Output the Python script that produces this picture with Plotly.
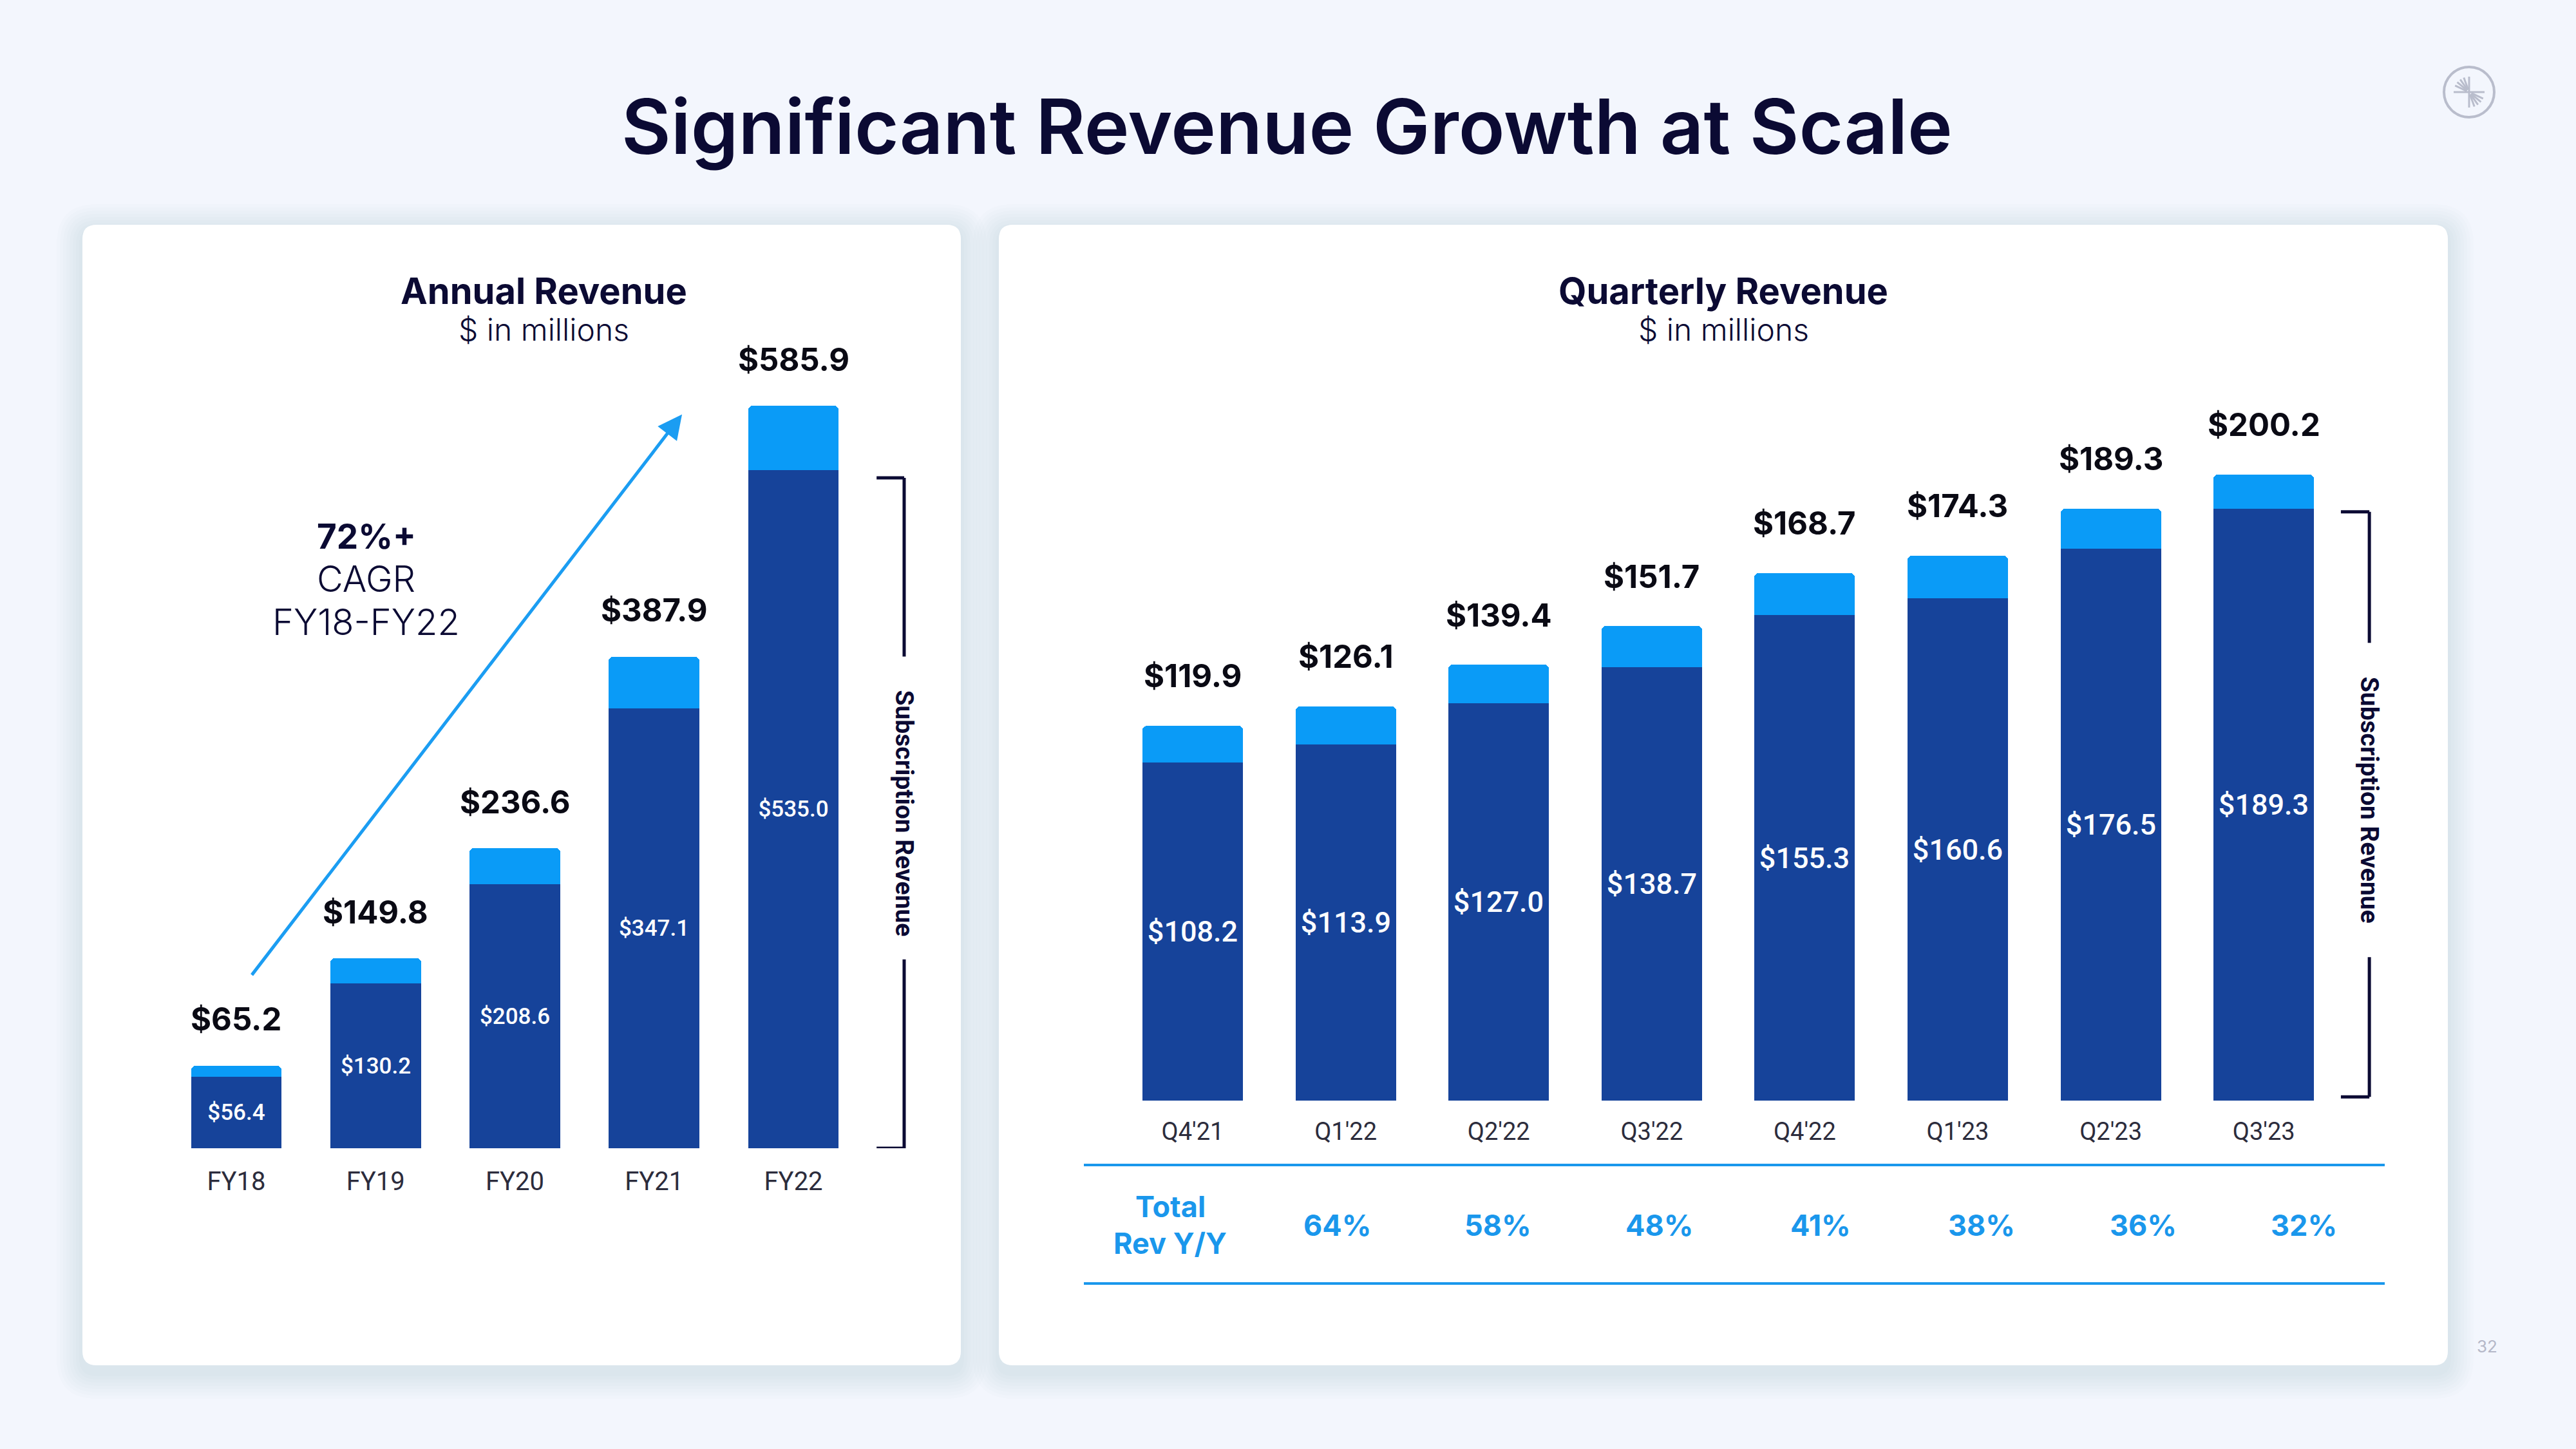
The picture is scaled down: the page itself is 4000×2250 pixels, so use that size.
import math
import plotly.graph_objects as go

W, H = 4000, 2250

# ---------------- data ----------------
annual_years = ["FY18", "FY19", "FY20", "FY21", "FY22"]
annual_total = [65.2, 149.8, 236.6, 387.9, 585.9]
annual_subscription = [56.4, 130.2, 208.6, 347.1, 535.0]

quarters = ["Q4'21", "Q1'22", "Q2'22", "Q3'22", "Q4'22", "Q1'23", "Q2'23", "Q3'23"]
quarterly_total = [119.9, 126.1, 139.4, 151.7, 168.7, 174.3, 189.3, 200.2]
quarterly_subscription = [108.2, 113.9, 127.0, 138.7, 155.3, 160.6, 176.5, 189.3]

yoy_quarters = ["Q1'22", "Q2'22", "Q3'22", "Q4'22", "Q1'23", "Q2'23", "Q3'23"]
yoy_growth = [64, 58, 48, 41, 38, 36, 32]

cagr_text = ["72%+", "CAGR", "FY18-FY22"]

# ---------------- style ----------------
BG = "#f3f6fd"
DARK = "#16439a"
LIGHT = "#0a9bf7"
ACCENT = "#1a97ec"
NAVY = "#0b0a33"
TICK = "#2c2c3c"
TITLE_FONT = "Inter"
NUM_FONT = "Roboto"


def px(x):
    return x / W


def py(y):
    return 1 - y / H


fig = go.Figure()

# ---- annual bars ----
fig.add_trace(go.Bar(
    x=annual_years, y=annual_total, xaxis="x", yaxis="y",
    marker=dict(color=LIGHT, cornerradius=7, line=dict(width=0)),
    width=0.65, hoverinfo="skip", showlegend=False,
))
fig.add_trace(go.Bar(
    x=annual_years, y=annual_subscription, xaxis="x", yaxis="y",
    marker=dict(color=DARK, cornerradius=0, line=dict(width=0)),
    width=0.65, text=[f"${v:.1f}" for v in annual_subscription],
    textposition="inside", insidetextanchor="middle", textangle=0,
    constraintext="none",
    textfont=dict(family=NUM_FONT, size=35, color="white", weight=500),
    hoverinfo="skip", showlegend=False,
))

# ---- quarterly bars ----
fig.add_trace(go.Bar(
    x=quarters, y=quarterly_total, xaxis="x2", yaxis="y2",
    marker=dict(color=LIGHT, cornerradius=7, line=dict(width=0)),
    width=0.656, hoverinfo="skip", showlegend=False,
))
fig.add_trace(go.Bar(
    x=quarters, y=quarterly_subscription, xaxis="x2", yaxis="y2",
    marker=dict(color=DARK, cornerradius=0, line=dict(width=0)),
    width=0.656, text=[f"${v:.1f}" for v in quarterly_subscription],
    textposition="inside", insidetextanchor="middle", textangle=0,
    constraintext="none",
    textfont=dict(family=NUM_FONT, size=45, color="white", weight=500),
    hoverinfo="skip", showlegend=False,
))

annotations = []
shapes = []

# ---- cards (with soft shadow) ----
def rrect_path(x0, y0, x1, y1, r):
    rx, ry = r / W, r / H
    X0, X1, Y0, Y1 = px(x0), px(x1), py(y0), py(y1)
    return (f"M {X0+rx},{Y0} L {X1-rx},{Y0} Q {X1},{Y0} {X1},{Y0-ry} "
            f"L {X1},{Y1+ry} Q {X1},{Y1} {X1-rx},{Y1} L {X0+rx},{Y1} "
            f"Q {X0},{Y1} {X0},{Y1+ry} L {X0},{Y0-ry} Q {X0},{Y0} {X0+rx},{Y0} Z")

for (cx0, cy0, cx1, cy1) in [(128, 349, 1492, 2120), (1551, 349, 3801, 2120)]:
    for i in range(1, 9):
        e = i * 5
        shapes.append(dict(type="path", xref="paper", yref="paper", layer="below",
                           path=rrect_path(cx0 - e, cy0 - e + 8, cx1 + e, cy1 + e + 12, 22 + e),
                           fillcolor="rgba(40,50,110,0.012)", line=dict(width=0)))
    shapes.append(dict(type="path", xref="paper", yref="paper", layer="below",
                       path=rrect_path(cx0, cy0, cx1, cy1, 22),
                       fillcolor="white", line=dict(width=0)))

# ---- titles ----
annotations.append(dict(text="Significant Revenue Growth at Scale", xref="paper", yref="paper",
                        x=px(1998), y=py(196), showarrow=False, xanchor="center", yanchor="middle",
                        font=dict(family=TITLE_FONT, size=118, color=NAVY, weight=600)))
for cx, title in [(844, "Annual Revenue"), (2676, "Quarterly Revenue")]:
    annotations.append(dict(text=title, xref="paper", yref="paper", x=px(cx), y=py(452),
                            showarrow=False, xanchor="center", yanchor="middle",
                            font=dict(family=TITLE_FONT, size=56, color=NAVY, weight=700)))
    annotations.append(dict(text="$ in millions", xref="paper", yref="paper", x=px(cx), y=py(512),
                            showarrow=False, xanchor="center", yanchor="middle",
                            font=dict(family=TITLE_FONT, size=48, color=NAVY, weight=300)))

# ---- total labels above bars ----
for cat, v in zip(annual_years, annual_total):
    annotations.append(dict(text=f"${v:.1f}", x=cat, y=v, xref="x", yref="y", yshift=72,
                            showarrow=False, xanchor="center", yanchor="middle",
                            font=dict(family=TITLE_FONT, size=49, color="#0a0a14", weight=700)))
for cat, v in zip(quarters, quarterly_total):
    annotations.append(dict(text=f"${v:.1f}", x=cat, y=v, xref="x2", yref="y2", yshift=77,
                            showarrow=False, xanchor="center", yanchor="middle",
                            font=dict(family=TITLE_FONT, size=49, color="#0a0a14", weight=700)))

# ---- CAGR annotation and arrow ----
for txt, yy, wt in zip(cagr_text, [483, 449, 415], [700, 300, 300]):
    annotations.append(dict(text=txt, x=0.934, y=yy, xref="x", yref="y", showarrow=False,
                            xanchor="center", yanchor="middle",
                            font=dict(family=TITLE_FONT, size=53 if wt == 700 else 56,
                                      color=NAVY, weight=wt)))
annotations.append(dict(text="", x=3.2, y=579, ax=0.106, ay=136, xref="x", yref="y",
                        axref="x", ayref="y", showarrow=True, arrowhead=2, arrowsize=1.5,
                        arrowwidth=5, arrowcolor="#1b9df2", standoff=0))

# ---- brackets ----
def bracket(xr, yr, xv, xl, ytop, ygap_hi, ygap_lo, ybot, ytext):
    lc = dict(color=NAVY, width=5)
    shapes.extend([
        dict(type="line", xref=xr, yref=yr, x0=xl, x1=xv, y0=ytop, y1=ytop, line=lc),
        dict(type="line", xref=xr, yref=yr, x0=xv, x1=xv, y0=ytop, y1=ygap_hi, line=lc),
        dict(type="line", xref=xr, yref=yr, x0=xv, x1=xv, y0=ygap_lo, y1=ybot, line=lc),
        dict(type="line", xref=xr, yref=yr, x0=xl, x1=xv, y0=ybot, y1=ybot, line=lc),
    ])
    annotations.append(dict(text="Subscription Revenue", x=xv, y=ytext, xref=xr, yref=yr,
                            textangle=90, showarrow=False, xanchor="center", yanchor="middle",
                            font=dict(family=NUM_FONT, size=39, color=NAVY, weight=700)))

bracket("x", "y", 4.795, 4.597, 529, 388, 149, 0, 264)
bracket("x2", "y2", 7.69, 7.504, 188.3, 146.4, 45.9, 1.2, 96.2)

# ---- Y/Y table ----
for yy in [1809, 1993]:
    shapes.append(dict(type="line", xref="paper", yref="paper", x0=px(1683), x1=px(3703),
                       y0=py(yy), y1=py(yy), line=dict(color=ACCENT, width=4)))
for txt, yy in [("Total", 1873), ("Rev Y/Y", 1930)]:
    annotations.append(dict(text=txt, xref="paper", yref="paper", x=px(1817), y=py(yy),
                            showarrow=False, xanchor="center", yanchor="middle",
                            font=dict(family=TITLE_FONT, size=45, color=ACCENT, weight=700)))
for i, g in enumerate(yoy_growth):
    annotations.append(dict(text=f"{g}%", xref="paper", yref="paper", x=px(2076 + i * 250.3),
                            y=py(1902), showarrow=False, xanchor="center", yanchor="middle",
                            font=dict(family=TITLE_FONT, size=45, color=ACCENT, weight=700)))

# ---- page number & logo ----
annotations.append(dict(text="32", xref="paper", yref="paper", x=px(3862), y=py(2090),
                        showarrow=False, xanchor="center", yanchor="middle",
                        font=dict(family=TITLE_FONT, size=26, color="#b5b8c8")))
lcx, lcy, lr = 3834, 143, 39
LOGO = "#b9bdcc"
shapes.append(dict(type="circle", xref="paper", yref="paper", x0=px(lcx - lr), x1=px(lcx + lr),
                   y0=py(lcy + lr), y1=py(lcy - lr), line=dict(color=LOGO, width=4)))
shapes.append(dict(type="line", xref="paper", yref="paper", x0=px(lcx), x1=px(lcx),
                   y0=py(lcy - 24), y1=py(lcy + 24), line=dict(color=LOGO, width=3)))
shapes.append(dict(type="line", xref="paper", yref="paper", x0=px(lcx - 24), x1=px(lcx + 24),
                   y0=py(lcy), y1=py(lcy), line=dict(color=LOGO, width=3)))
for base in (0, 180):
    for a in (110, 125, 140, 155):
        ang = math.radians(a + base)
        x1 = lcx + 24 * math.cos(ang)
        y1 = lcy - 24 * math.sin(ang)
        x0 = lcx + 4 * math.cos(ang)
        y0 = lcy - 4 * math.sin(ang)
        shapes.append(dict(type="line", xref="paper", yref="paper", x0=px(x0), x1=px(x1),
                           y0=py(y0), y1=py(y1), line=dict(color=LOGO, width=3)))

axis_common = dict(showgrid=False, zeroline=False, showline=False, ticks="",
                   tickfont=dict(family=NUM_FONT, size=40, color=TICK), fixedrange=True)

fig.update_layout(
    width=W, height=H, margin=dict(l=0, r=0, t=0, b=0),
    paper_bgcolor=BG, plot_bgcolor="rgba(0,0,0,0)",
    barmode="overlay", bargap=0,
    xaxis=dict(domain=[px(128), px(1492)], range=[-1.105, 5.202], type="category",
               anchor="y", ticklabelstandoff=24, **axis_common),
    yaxis=dict(domain=[py(1783), py(349)], range=[0, 728.7], visible=False, fixedrange=True),
    xaxis2=dict(domain=[px(1551), px(3801)], range=[-1.267, 8.203], type="category",
                anchor="y2", ticklabelstandoff=22,
                **{**axis_common, "tickfont": dict(family=NUM_FONT, size=38, color=TICK)}),
    yaxis2=dict(domain=[py(1709), py(349)], range=[0, 280.1], visible=False, fixedrange=True),
    annotations=annotations, shapes=shapes,
    font=dict(family=TITLE_FONT),
)

fig.write_html(
    "out.html",
    config={"displayModeBar": False},
    post_script=("document.body.style.margin='0';document.body.style.overflow='hidden';"
                 "document.body.style.background='" + BG + "';"
                 "document.documentElement.style.background='" + BG + "';"),
)
